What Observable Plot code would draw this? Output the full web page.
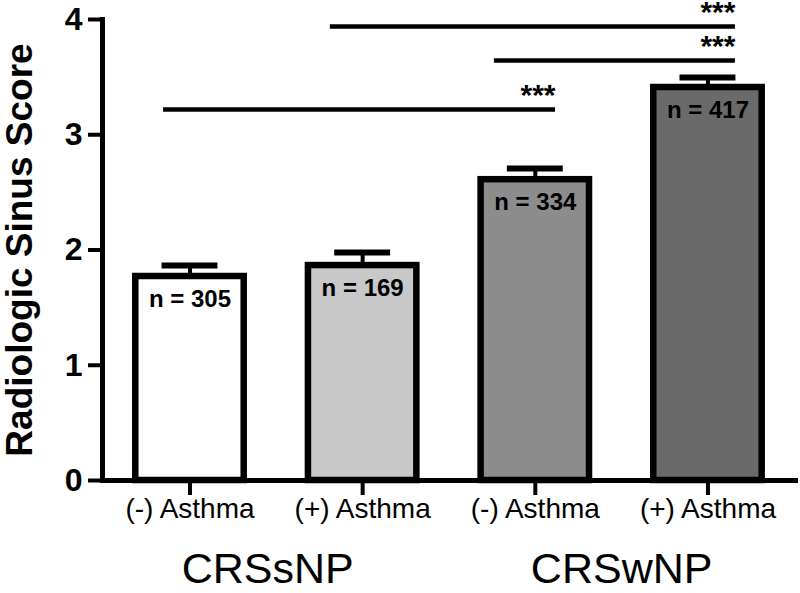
<!DOCTYPE html>
<html><head><meta charset="utf-8">
<script src="https://cdn.jsdelivr.net/npm/d3@7"></script>
<script src="https://cdn.jsdelivr.net/npm/@observablehq/plot@0.6"></script>
<style>body{margin:0;background:#fff}</style>
</head><body><div id="chart"></div>
<script>
// ---- data ----
const groups = ["CRSsNP", "CRSsNP", "CRSwNP", "CRSwNP"];
const asthma = ["(-) Asthma", "(+) Asthma", "(-) Asthma", "(+) Asthma"];
const means = [1.77, 1.865, 2.61, 3.41];
const sems = [0.095, 0.113, 0.097, 0.087];
const nValues = [305, 169, 334, 417];
const sigX1 = [0.847, 2.763, 1.813];
const sigX2 = [3.117, 4.159, 4.159];
const sigY = [3.22, 3.645, 3.94];
const sigLabels = ["***", "***", "***"];
const groupNames = ["CRSsNP", "CRSwNP"];
const groupX = [1.45, 3.5];
const yTicks = [0, 1, 2, 3, 4];
const yLabel = "Radiologic Sinus Score";

// ---- styles ----
const barFills = ["#ffffff", "#c8c8c8", "#8c8c8c", "#6a6a6a"];
const halfBar = 0.314, halfCap = 0.162;

const bars = means.map((m, i) => ({i, x: i + 1, mean: m, top: m + sems[i], n: "n = " + nValues[i]}));
const sig = sigY.map((y, i) => ({x1: sigX1[i], x2: sigX2[i], y, label: sigLabels[i]}));
const groupData = groupNames.map((g, i) => ({x: groupX[i], g}));

const chart = Plot.plot({
  width: 800, height: 593,
  marginLeft: 102, marginRight: 5, marginTop: 19, marginBottom: 113,
  style: {fontFamily: "'Liberation Sans', Arial, sans-serif", background: "white", color: "black"},
  x: {domain: [0.4933, 4.507], axis: null},
  y: {domain: [0, 4], axis: null},
  color: {type: "ordinal", domain: [0, 1, 2, 3], range: barFills},
  marks: [
    Plot.rect(bars, {x1: d => d.x - halfBar, x2: d => d.x + halfBar, y1: 0, y2: "mean", fill: "i", stroke: "black", strokeWidth: 6.5}),
    Plot.ruleX(bars, {x: "x", y1: "mean", y2: "top", stroke: "black", strokeWidth: 4}),
    Plot.ruleY(bars, {y: "top", x1: d => d.x - halfCap, x2: d => d.x + halfCap, stroke: "black", strokeWidth: 6}),
    Plot.text(bars, {x: "x", y: "mean", text: "n", dy: 23, fontSize: 24, fontWeight: "bold", fill: "black"}),
    Plot.ruleY(sig, {x1: "x1", x2: "x2", y: "y", stroke: "black", strokeWidth: 4.5}),
    Plot.text(sig, {x: "x2", y: "y", text: "label", textAnchor: "end", dy: -14, fontSize: 30, fontWeight: "bold", fill: "black"}),
    Plot.frame({anchor: "left", stroke: "black", strokeWidth: 5}),
    Plot.frame({anchor: "bottom", stroke: "black", strokeWidth: 5}),
    Plot.axisY({ticks: yTicks, tickFormat: d => String(d), tickSize: 14, strokeWidth: 4, tickPadding: 6, fontSize: 32, fontWeight: "bold", label: null}),
    Plot.axisX({ticks: [1, 2, 3, 4], tickFormat: d => asthma[d - 1], tickSize: 15, strokeWidth: 4, tickPadding: 3, fontSize: 28, label: null}),
    Plot.text(groupData, {x: "x", text: "g", frameAnchor: "bottom", lineAnchor: "middle", dy: 89, fontSize: 43, fill: "black"}),
    Plot.text([yLabel], {frameAnchor: "left", textAnchor: "middle", lineAnchor: "middle", dx: -82, rotate: -90, text: d => d, fontSize: 37, fontWeight: "bold", fill: "black"})
  ]
});
document.getElementById("chart").appendChild(chart);
</script>
</body></html>
